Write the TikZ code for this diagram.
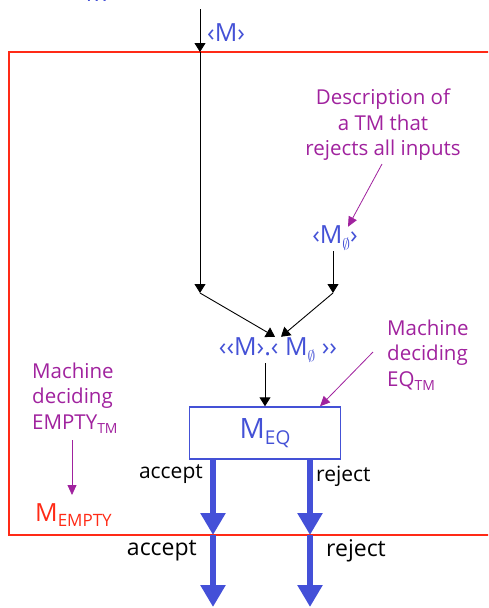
\documentclass[tikz,border=0pt]{standalone}
\usepackage{fontspec}
\setmainfont{Open Sans}
\usetikzlibrary{arrows.meta}
\definecolor{descblue}{HTML}{4451D6}
\definecolor{notemag}{HTML}{A0229E}
\definecolor{boxred}{HTML}{FF2A16}
\definecolor{flowblue}{HTML}{4450D8}
\newcommand\lowsub[1]{\raisebox{-0.35ex}{\scalebox{0.68}{#1}}}
\newcommand\nullm{\raisebox{-0.4ex}{\scalebox{0.62}{$\emptyset$}}}
\tikzset{
  desc/.style={text=descblue,font=\fontsize{25}{27}\selectfont,inner sep=1pt},
  note/.style={text=notemag,font=\fontsize{20.5}{25.5}\selectfont,align=center,inner sep=1pt},
  outcome/.style={text=black,font=\fontsize{21}{23}\selectfont,inner sep=1pt},
  flow/.style={draw=black,line width=0.9pt,-{Triangle[length=9pt,width=11pt]}},
  pointer/.style={draw=notemag,line width=0.8pt,-{Triangle[length=10pt,width=9pt]}},
  bigflow/.style={draw=flowblue,line width=6pt,-{Triangle[length=22pt,width=24pt]}},
  deciderbox/.style={draw=descblue,line width=1.4pt,minimum width=151pt,minimum height=52pt,
    text=descblue,font=\fontsize{28}{30}\selectfont},
}
\begin{document}
\begin{tikzpicture}[x=1pt,y=-1pt]
\useasboundingbox (0,0) rectangle (488,608);
\clip (0,0) rectangle (488,608);

% input arriving from above
\node[desc] (inM) at (97,-7.5) {‹M›};

% outer machine M_EMPTY
\draw[boxred,line width=2pt] (9,52) rectangle (520,535);
\node[text=boxred,font=\fontsize{25}{27}\selectfont,inner sep=1pt,anchor=west] (mempty) at (34,515) {M\lowsub{EMPTY}};

% main input line
\coordinate (src) at (200,9);
\coordinate (entry) at (200,52);
\coordinate (bendL) at (200,293);
\coordinate (bendR) at (333,293);
\node[desc,anchor=west] (m) at (206,33) {‹M›};
\draw[flow] (src) -- (entry);
\draw[flow] (entry) -- (bendL);

% description of the rejecting machine
\node[note] (descnote) at (383,125) {Description of\\a TM that\\rejects all inputs};
\node[desc] (mnull) at (335,238) {‹M\nullm›};
\draw[pointer] (382,164) -- ([xshift=13pt,yshift=-2pt]mnull.north);
\draw[flow] (mnull.south -| bendR) -- (bendR);

% the pair of descriptions
\node[desc] (pair) at (278,350) {‹‹M›.‹ M\nullm{} ››};
\draw[flow] (bendL) -- ([xshift=-3pt]pair.north);
\draw[flow] (bendR) -- ([xshift=3pt]pair.north);

% decider for EQ
\node[deciderbox] (meq) at (265,433) {M\lowsub{EQ}};
\draw[flow] (pair.south -| meq.north) -- (meq.north);

\node[note,align=left,anchor=west] (eqnote) at (386,355) {Machine\\deciding\\EQ\lowsub{TM}};
\draw[pointer] (373,352) -- ([xshift=55pt]meq.north);

\node[note,align=left,anchor=west] (emptynote) at (31,398) {Machine\\deciding\\EMPTY\lowsub{TM}};
\draw[pointer] (72,440) -- (72,495);

% outcomes
\coordinate (accOut) at (213,535);
\coordinate (rejOut) at (310,535);
\coordinate (accEnd) at (213,607);
\coordinate (rejEnd) at (310,607);
\draw[bigflow] (meq.south -| accOut) -- (accOut);
\draw[bigflow] (meq.south -| rejOut) -- (rejOut);
\draw[bigflow] (accOut) -- (accEnd);
\draw[bigflow] (rejOut) -- (rejEnd);
\node[outcome,anchor=east] (accIn) at (204,474) {accept};
\node[outcome,anchor=west] (rejIn) at (315,476) {reject};
\node[outcome,anchor=east,font=\fontsize{23}{25}\selectfont] (accOutL) at (198,551) {accept};
\node[outcome,anchor=west,font=\fontsize{23}{25}\selectfont] (rejOutL) at (325,551) {reject};
\end{tikzpicture}
\end{document}
